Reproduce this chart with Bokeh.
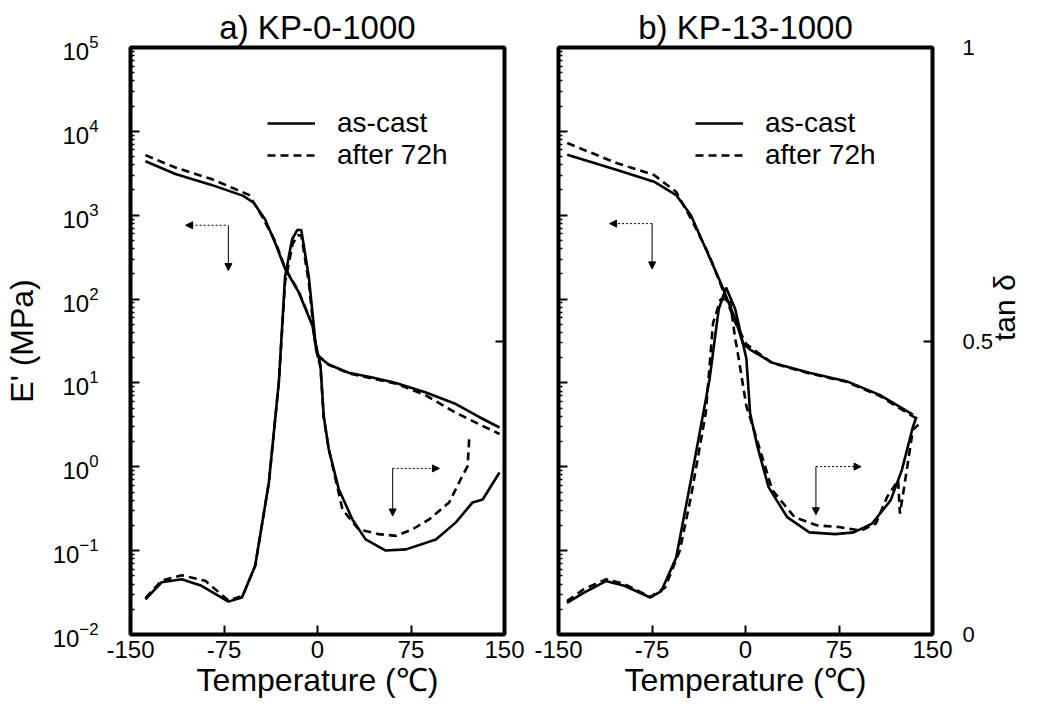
import math
from bokeh.plotting import figure
from bokeh.models import (Range1d, LinearAxis, LinearScale, FixedTicker, Arrow, NormalHead,
                          Legend, LegendItem, CustomJSTickFormatter)
from bokeh.layouts import row
from bokeh.embed import file_html
from bokeh.resources import INLINE

FONT = "Liberation Sans"

# ---------------- data : panel a) KP-0-1000 ----------------
a_E_cast_T = [-138, -114, -85, -59.5, -51, -42, -34, -26, -15, -4, 0, 9, 25, 44, 63, 87, 111, 130, 146]
a_E_cast = [4400, 3100, 2300, 1700, 1400, 890, 470, 230, 120, 48, 21, 16.6, 13.2, 11.6, 10, 7.7, 5.6, 3.9, 2.94]
a_E_aged_T = [-138, -114, -85, -55, -45, -34, -26, -15, -4, 0, 9, 25, 44, 63, 87, 111, 130, 146]
a_E_aged = [5200, 3700, 2700, 1750, 1000, 490, 235, 122, 49, 21.5, 16.5, 13, 11.3, 9.8, 7.1, 4.4, 3.2, 2.46]
a_tan_cast_T = [-138, -125, -109, -93, -71.5, -60.6, -50, -39, -31, -26, -20.4, -16.3, -13, -7, -1.6, 2.4, 5, 9,
                17, 28, 38.6, 54.7, 71, 95, 111, 124.4, 132.5, 146]
a_tan_cast = [0.060, 0.089, 0.094, 0.083, 0.056, 0.063, 0.117, 0.259, 0.43, 0.61, 0.673, 0.689, 0.689, 0.61, 0.497,
              0.458, 0.372, 0.316, 0.248, 0.196, 0.162, 0.143, 0.145, 0.162, 0.191, 0.225, 0.23, 0.276]
a_tan_aged_T = [-138, -125, -109, -90, -71.5, -60, -50, -39, -31, -26, -20, -16, -13, -7, -1.6, 2.4, 5, 9, 20, 33,
                49, 63, 76, 89.5, 105.6, 115, 120.4, 121.7]
a_tan_aged = [0.062, 0.092, 0.101, 0.0915, 0.058, 0.066, 0.117, 0.259, 0.43, 0.60, 0.665, 0.68, 0.68, 0.60, 0.49,
              0.455, 0.37, 0.316, 0.213, 0.179, 0.171, 0.168, 0.179, 0.196, 0.225, 0.265, 0.287, 0.333]

# ---------------- data : panel b) KP-13-1000 ----------------
b_E_cast_T = [-143, -103, -73.4, -55.6, -43.8, -31.9, -20, -8.2, -2.2, 3.7, 21.5, 51.2, 80.9, 107.6, 134.3]
b_E_cast = [5250, 3470, 2510, 1740, 1000, 398, 158, 57.5, 30, 25, 17.4, 13.2, 10.5, 7.2, 4.2]
b_E_aged_T = [-143, -103, -73.4, -55.6, -42.3, -29, -18.5, -8.2, 0.7, 21.5, 51.2, 80.9, 107.6, 134.3, 138.7]
b_E_aged = [7250, 4170, 3020, 1900, 830, 331, 132, 52.5, 29, 17.2, 13.0, 10.3, 7.0, 4.0, 3.6]
b_tan_cast_T = [-143.2, -129.8, -112, -97.2, -76.4, -67.5, -55.6, -43.8, -28.9, -21.5, -15.6, -8.2, 0.7, 3.7, 9.6,
                18.5, 33.4, 51.2, 72, 86.8, 101.6, 116.5, 125.4, 134.3, 137.2]
b_tan_cast = [0.054, 0.071, 0.091, 0.083, 0.063, 0.074, 0.131, 0.263, 0.434, 0.554, 0.591, 0.554, 0.47, 0.377, 0.32,
              0.251, 0.2, 0.174, 0.171, 0.174, 0.189, 0.229, 0.28, 0.354, 0.371]
b_tan_aged_T = [-143.2, -129.8, -112, -97.2, -76.4, -64.5, -52.7, -43.8, -31.9, -26, -20, -12.6, -8.2, -6.7, 0.7,
                6.7, 21.5, 39.3, 57.1, 74.9, 92.7, 104.6, 113.5, 122.4, 123.9, 126.9, 134.3, 140.2]
b_tan_aged = [0.057, 0.077, 0.094, 0.086, 0.064, 0.08, 0.143, 0.234, 0.377, 0.531, 0.571, 0.571, 0.503, 0.486, 0.389,
              0.349, 0.246, 0.2, 0.186, 0.183, 0.177, 0.189, 0.234, 0.263, 0.206, 0.246, 0.349, 0.36]

# axis ticks / labels
x_ticks = [-150, -75, 0, 75, 150]
E_ticks = [10.0 ** k for k in range(-2, 6)]
E_minor = [m * 10.0 ** k for k in range(-2, 5) for m in range(2, 10)]
tan_ticks = [0, 0.5, 1]
legend_labels = ["as-cast", "after 72h"]

# direction arrows: (x_start, x_end, y) horizontal, (x, y_start, y_end) vertical
a_arrow_E = dict(h=(-73.7, -105.8, 759), v=(-71.5, 759, 219))
a_arrow_tan = dict(h=(60.3, 97.8, 0.283), v=(60.3, 0.283, 0.202))
b_arrow_E = dict(h=(-74.9, -109, 794), v=(-74.9, 794, 229))
b_arrow_tan = dict(h=(56.5, 92.7, 0.286), v=(56.5, 0.286, 0.204))

LW = 2.6
DASH = "8 5"
TXT = "black"


def blank():
    return CustomJSTickFormatter(code="return ''")


def plain():
    return CustomJSTickFormatter(code="return tick.toString()")


def make_panel(title, Ec_T, Ec, Ea_T, Ea, tc_T, tc, ta_T, ta, arrE, arrT, bl, br, show_left_labels, show_right_labels):
    p = figure(frame_width=374, frame_height=587, title=title,
               x_range=Range1d(-150, 150), y_range=Range1d(1e-2, 1e5), y_axis_type="log",
               output_backend="svg", toolbar_location=None,
               min_border_left=bl, min_border_right=br, min_border_top=47, min_border_bottom=72)
    p.extra_y_ranges = {"tan": Range1d(0, 1)}
    p.extra_y_scales = {"tan": LinearScale()}
    p.grid.visible = False
    p.outline_line_color = "black"
    p.outline_line_width = 4
    p.background_fill_color = "white"
    p.border_fill_color = "white"

    p.title.align = "center"
    p.title.text_font = FONT
    p.title.text_font_size = "33px"
    p.title.text_font_style = "normal"
    p.title.text_color = TXT
    p.title.standoff = 4

    xa = p.xaxis[0]
    xa.ticker = FixedTicker(ticks=x_ticks)
    xa.formatter = plain()
    xa.axis_line_color = None
    xa.major_tick_in = 9
    xa.major_tick_out = 0
    xa.major_tick_line_width = 2
    xa.minor_tick_line_color = None
    xa.major_label_text_font = FONT
    xa.major_label_text_font_size = "24px"
    xa.major_label_text_color = TXT
    xa.major_label_standoff = 6
    xa.axis_label = "Temperature (℃)"
    xa.axis_label_text_font = FONT
    xa.axis_label_text_font_size = "32px"
    xa.axis_label_text_font_style = "normal"
    xa.axis_label_text_color = TXT
    xa.axis_label_standoff = 1

    ya = p.yaxis[0]
    ya.ticker = FixedTicker(ticks=E_ticks, minor_ticks=E_minor)
    ya.axis_line_color = None
    ya.major_tick_in = 9
    ya.major_tick_out = 0
    ya.major_tick_line_width = 2
    ya.minor_tick_in = 4
    ya.minor_tick_out = 0
    ya.minor_tick_line_width = 1.5
    if show_left_labels:
        ya.major_label_text_font = FONT
        ya.major_label_text_font_size = "24px"
        ya.major_label_text_color = TXT
        ya.major_label_standoff = 32
        ya.axis_label = "E' (MPa)"
        ya.axis_label_text_font = FONT
        ya.axis_label_text_font_size = "32px"
        ya.axis_label_text_font_style = "normal"
        ya.axis_label_text_color = TXT
        ya.axis_label_standoff = 10
    else:
        ya.formatter = blank()
        ya.major_label_standoff = 0
        ya.axis_label_standoff = 0

    ra = LinearAxis(y_range_name="tan", ticker=FixedTicker(ticks=tan_ticks if show_right_labels else [0.5]))
    ra.axis_line_color = None
    ra.major_tick_in = 9
    ra.major_tick_out = 0
    ra.major_tick_line_width = 2
    ra.minor_tick_line_color = None
    if show_right_labels:
        ra.formatter = plain()
        ra.major_label_text_font = FONT
        ra.major_label_text_font_size = "22px"
        ra.major_label_text_color = TXT
        ra.major_label_standoff = 30
        ra.axis_label = "tan δ"
        ra.axis_label_text_font = FONT
        ra.axis_label_text_font_size = "30px"
        ra.axis_label_text_font_style = "normal"
        ra.axis_label_text_color = TXT
        ra.axis_label_standoff = 8
        ra.axis_label_orientation = math.pi / 2
    else:
        ra.formatter = blank()
        ra.major_label_standoff = 0
        ra.axis_label_standoff = 0
    p.add_layout(ra, "right")

    r_cast = p.line(Ec_T, Ec, line_color="black", line_width=LW)
    r_aged = p.line(Ea_T, Ea, line_color="black", line_width=LW, line_dash=DASH)
    p.line(tc_T, tc, line_color="black", line_width=LW, y_range_name="tan")
    p.line(ta_T, ta, line_color="black", line_width=LW, line_dash=DASH, y_range_name="tan")

    # arrows
    hx0, hx1, hy = arrE["h"]
    p.add_layout(Arrow(x_start=hx0, y_start=hy, x_end=hx1, y_end=hy, line_width=1, line_dash="2 2",
                       end=NormalHead(size=7, line_width=1, fill_color="black")))
    vx, vy0, vy1 = arrE["v"]
    p.add_layout(Arrow(x_start=vx, y_start=vy0, x_end=vx, y_end=vy1, line_width=1,
                       end=NormalHead(size=7, line_width=1, fill_color="black")))
    hx0, hx1, hy = arrT["h"]
    p.add_layout(Arrow(x_start=hx0, y_start=hy, x_end=hx1, y_end=hy, line_width=1, line_dash="2 2",
                       y_range_name="tan", end=NormalHead(size=7, line_width=1, fill_color="black")))
    vx, vy0, vy1 = arrT["v"]
    p.add_layout(Arrow(x_start=vx, y_start=vy0, x_end=vx, y_end=vy1, line_width=1, y_range_name="tan",
                       end=NormalHead(size=7, line_width=1, fill_color="black")))

    leg = Legend(items=[LegendItem(label=legend_labels[0], renderers=[r_cast]),
                        LegendItem(label=legend_labels[1], renderers=[r_aged])],
                 location=(137, 463), orientation="vertical",
                 border_line_color=None, background_fill_alpha=0,
                 label_text_font=FONT, label_text_font_size="28px", label_text_color=TXT,
                 glyph_width=48, glyph_height=24, label_height=24,
                 label_standoff=22, spacing=-3, padding=0, margin=0)
    p.add_layout(leg, "center")
    return p


pa = make_panel("a) KP-0-1000", a_E_cast_T, a_E_cast, a_E_aged_T, a_E_aged,
                a_tan_cast_T, a_tan_cast, a_tan_aged_T, a_tan_aged, a_arrow_E, a_arrow_tan,
                126, 27, True, False)
pb = make_panel("b) KP-13-1000", b_E_cast_T, b_E_cast, b_E_aged_T, b_E_aged,
                b_tan_cast_T, b_tan_cast, b_tan_aged_T, b_tan_aged, b_arrow_E, b_arrow_tan,
                27, 98, False, True)

layout = row(pa, pb)
open("out.html", "w").write(file_html(layout, INLINE))
